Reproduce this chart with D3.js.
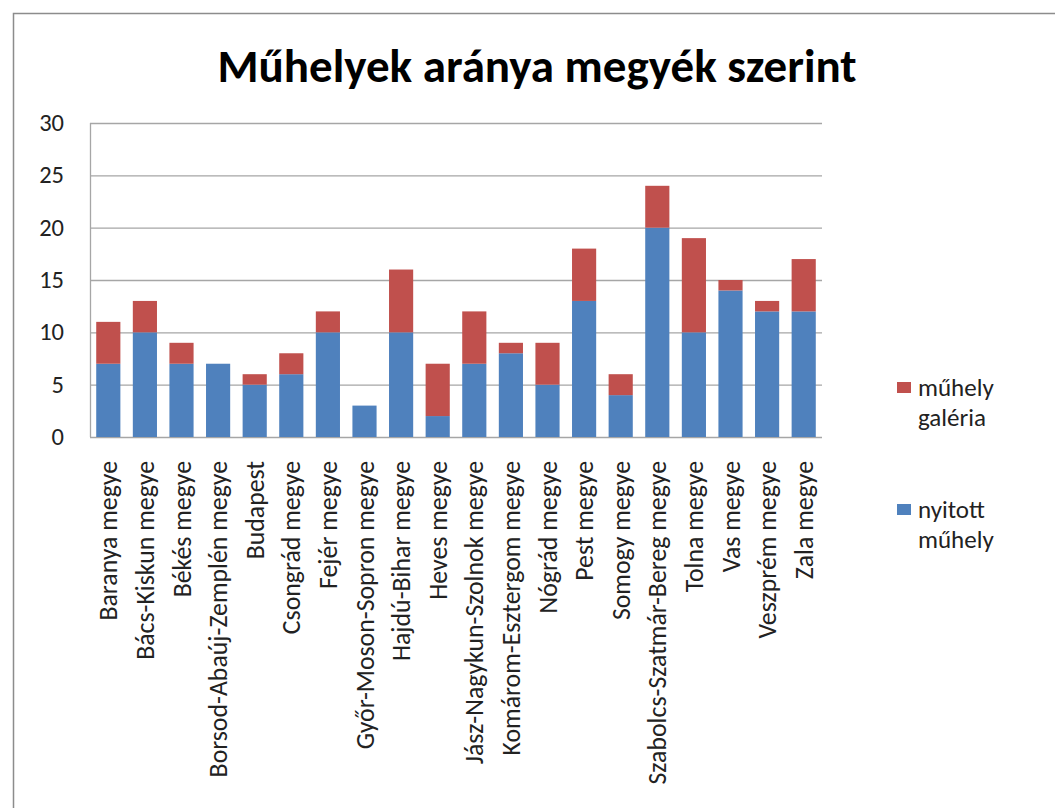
<!DOCTYPE html>
<html><head><meta charset="utf-8">
<script src="https://cdn.jsdelivr.net/npm/d3@7"></script>
<style>body{margin:0;background:#fff;} svg{display:block;}</style>
</head><body>
<svg id="c" width="1055" height="808"></svg>
<script>
const categories = ["Baranya megye","Bács-Kiskun megye","Békés megye","Borsod-Abaúj-Zemplén megye","Budapest","Csongrád megye","Fejér megye","Győr-Moson-Sopron megye","Hajdú-Bihar megye","Heves megye","Jász-Nagykun-Szolnok megye","Komárom-Esztergom megye","Nógrád megye","Pest megye","Somogy megye","Szabolcs-Szatmár-Bereg megye","Tolna megye","Vas megye","Veszprém megye","Zala megye"];
const nyitott = [7,10,7,7,5,6,10,3,10,2,7,8,5,13,4,20,10,14,12,12];
const galeria = [4,3,2,0,1,2,2,0,6,5,5,1,4,5,2,4,9,1,1,5];
const yTicks = [0,5,10,15,20,25,30];
const seriesNames = ["műhely galéria","nyitott műhely"];
const colors = {"nyitott":"#4F81BD","galeria":"#C0504D"};

(function(){
const svg = d3.select("#c");
const font = "Carlito, Calibri, Lato, sans-serif";

svg.append("path").attr("d","M13.5,808 L13.5,13.5 L1055,13.5").attr("fill","none").attr("stroke","#8c8c8c").attr("stroke-width",1.5);

svg.append("text").attr("x",537).attr("y",82).attr("text-anchor","middle")
  .attr("font-family",font).attr("font-weight","bold").attr("font-size",47).attr("fill","#000")
  .text("Műhelyek aránya megyék szerint");

const pL=90,pR=822,pT=123,pB=437;
const x = d3.scaleBand().domain(categories).range([pL,pR]).paddingInner(0.34).paddingOuter(0.17);
const y = d3.scaleLinear().domain([0,30]).range([pB,pT]);

svg.append("g").selectAll("line").data(yTicks).join("line")
  .attr("x1",pL).attr("x2",pR).attr("y1",d=>y(d)+0.5).attr("y2",d=>y(d)+0.5)
  .attr("stroke","#a6a6a6").attr("stroke-width",1.3);
svg.append("line").attr("x1",pL+0.5).attr("x2",pL+0.5).attr("y1",pT).attr("y2",pB).attr("stroke","#a6a6a6").attr("stroke-width",1.3);

svg.append("g").selectAll("text").data(yTicks).join("text")
  .attr("x",64).attr("y",d=>y(d)+8).attr("text-anchor","end")
  .attr("font-family",font).attr("font-size",24.5).attr("fill","#222").text(d=>d);

const g = svg.append("g");
g.selectAll("rect.n").data(categories).join("rect").attr("class","n")
  .attr("x",d=>x(d)).attr("width",x.bandwidth())
  .attr("y",(d,i)=>y(nyitott[i])).attr("height",(d,i)=>y(0)-y(nyitott[i]))
  .attr("fill",colors.nyitott);
g.selectAll("rect.g").data(categories).join("rect").attr("class","g")
  .attr("x",d=>x(d)).attr("width",x.bandwidth())
  .attr("y",(d,i)=>y(nyitott[i]+galeria[i])).attr("height",(d,i)=>y(nyitott[i])-y(nyitott[i]+galeria[i]))
  .attr("fill",colors.galeria);

svg.append("g").selectAll("text").data(categories).join("text")
  .attr("transform",d=>`translate(${x(d)+x.bandwidth()/2+9},461) rotate(-90)`)
  .attr("text-anchor","end").attr("font-family",font).attr("font-size",25.8).attr("fill","#222")
  .text(d=>d);

const leg = [{name:seriesNames[0],c:colors.galeria,y:382},{name:seriesNames[1],c:colors.nyitott,y:504}];
leg.forEach(l=>{
  svg.append("rect").attr("x",897).attr("y",l.y).attr("width",14).attr("height",11).attr("fill",l.c);
  const words = l.name.split(" ");
  const t = svg.append("text").attr("font-family",font).attr("font-size",25).attr("fill","#222");
  words.forEach((w,i)=>t.append("tspan").attr("x",918).attr("y",l.y+14+i*30).text(w));
});
})();
</script>
</body></html>
